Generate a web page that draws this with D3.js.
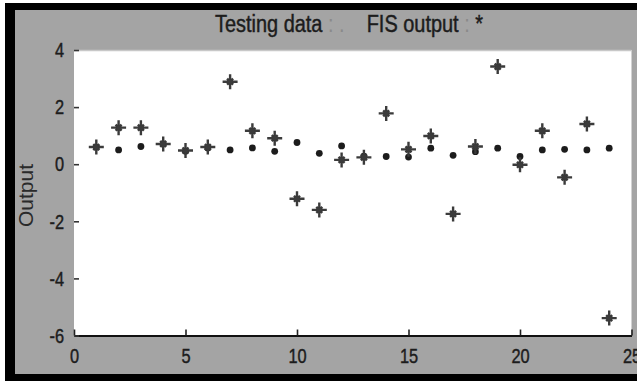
<!DOCTYPE html>
<html>
<head>
<meta charset="utf-8">
<script src="https://cdn.jsdelivr.net/npm/d3@7"></script>
<style>
  body { margin: 0; background: #fff; }
  svg { display: block; font-family: "Liberation Sans", Arial, sans-serif; }
  .squish { transform-box: fill-box; transform: scaleX(0.78); }
  .xax .tick text { transform-origin: center; }
  .yax .tick text { transform-origin: right center; }
  .lbl { stroke: #1c1c1c; stroke-width: 0.45px; }
</style>
</head>
<body>
<svg id="chart" width="637" height="381"></svg>
<script>
// sample index 1..24
const samples = d3.range(1, 25);
// testing data (dots)
const testing = [0.60, 0.50, 0.62, 0.71, 0.45, 0.57, 0.50, 0.57, 0.45, 0.76, 0.38, 0.64,
                 0.28, 0.27, 0.25, 0.56, 0.31, 0.44, 0.56, 0.27, 0.50, 0.52, 0.50, 0.56];
// FIS output (stars)
const fisOut = [0.60, 1.28, 1.28, 0.71, 0.48, 0.60, 2.89, 1.17, 0.91, -1.21, -1.60, 0.15,
                0.24, 1.78, 0.52, 0.99, -1.74, 0.62, 3.42, -0.02, 1.17, -0.46, 1.41, -5.39];
const xTicks = [0, 5, 10, 15, 20, 25];
const yTicks = [-6, -4, -2, 0, 2, 4];

const svg = d3.select("#chart");

const plotL = 74, plotR = 631.5, plotT = 50, plotB = 335.5;
const x = d3.scaleLinear().domain([0, 25]).range([plotL, plotR]);
const y = d3.scaleLinear().domain([-6, 4]).range([plotB, plotT]);

// figure frame
svg.append("rect").attr("x", 5).attr("y", 3).attr("width", 632).attr("height", 378).attr("fill", "#000");
svg.append("rect").attr("x", 15).attr("y", 10).attr("width", 622).attr("height", 364).attr("fill", "#a4a4a4");

// axes background
svg.append("rect").attr("x", plotL).attr("y", plotT).attr("width", plotR - plotL).attr("height", plotB - plotT)
  .attr("fill", "#fff");
svg.append("line").attr("x1", plotL).attr("x2", plotR).attr("y1", plotT + 0.5).attr("y2", plotT + 0.5)
  .attr("stroke", "#c8c8c8").attr("stroke-width", 1.5);

const defs = svg.append("defs");
defs.append("filter").attr("id", "soft")
  .append("feGaussianBlur").attr("stdDeviation", 0.6);

// x axis
const xAx = svg.append("g").attr("class", "xax")
  .attr("transform", `translate(0,${plotB})`)
  .call(d3.axisBottom(x).tickValues(xTicks).tickFormat(d3.format("d"))
    .tickSizeInner(-6).tickSizeOuter(0).tickPadding(12.5));
xAx.select(".domain").attr("stroke", "#111").attr("stroke-width", 2);
xAx.selectAll(".tick line").attr("stroke", "#222").attr("stroke-width", 1.6);
xAx.selectAll(".tick text").attr("class", "squish lbl").attr("fill", "#1c1c1c")
  .attr("font-size", 21).attr("font-family", "Liberation Sans, Arial, sans-serif");

// y axis
const yAx = svg.append("g").attr("class", "yax")
  .attr("transform", `translate(${plotL},0)`)
  .call(d3.axisLeft(y).tickValues(yTicks).tickFormat(d3.format("d"))
    .tickSizeInner(-5).tickSizeOuter(0).tickPadding(10));
yAx.select(".domain").remove();
yAx.selectAll(".tick line").attr("stroke", "#333").attr("stroke-width", 1.6);
yAx.selectAll(".tick text").attr("class", "squish lbl").attr("fill", "#1c1c1c")
  .attr("font-size", 21).attr("font-family", "Liberation Sans, Arial, sans-serif")
  .text(d => d < 0 ? "-" + Math.abs(d) : d);

// y label
svg.append("text")
  .attr("transform", "translate(33,195.5) rotate(-90)")
  .attr("text-anchor", "middle")
  .attr("font-size", 21).attr("fill", "#2a2a2a")
  .text("Output");

// title
const title = svg.append("text")
  .attr("class", "lbl")
  .attr("x", 215).attr("y", 32)
  .attr("font-size", 23).attr("fill", "#1c1c1c")
  .attr("textLength", 268).attr("lengthAdjust", "spacingAndGlyphs")
  .style("white-space", "pre");
title.append("tspan").text("Testing data");
title.append("tspan").attr("fill", "#8a8a8a").attr("stroke", "none").text(" : .    ");
title.append("tspan").text("FIS output");
title.append("tspan").attr("fill", "#8a8a8a").attr("stroke", "none").text(" : ");
title.append("tspan").text("*");

// markers
const marks = svg.append("g").attr("filter", "url(#soft)");

marks.selectAll("circle.obs")
  .data(samples)
  .join("circle")
  .attr("class", "obs")
  .attr("cx", d => x(d))
  .attr("cy", (d, i) => y(testing[i]))
  .attr("r", 3.4)
  .attr("fill", "#1e1e1e");

const starPath = "M-7.5,0H7.5M0,-7.5V7.5M-3,-3L3,3M-3,3L3,-3";
const stars = marks.selectAll("g.fis")
  .data(samples)
  .join("g")
  .attr("class", "fis")
  .attr("transform", (d, i) => `translate(${x(d)},${y(fisOut[i])})`);
stars.append("path").attr("d", starPath)
  .attr("stroke", "#3a3a3a").attr("stroke-width", 2.4).attr("fill", "none");
stars.append("circle").attr("r", 2.6).attr("fill", "#3a3a3a");
</script>
</body>
</html>
